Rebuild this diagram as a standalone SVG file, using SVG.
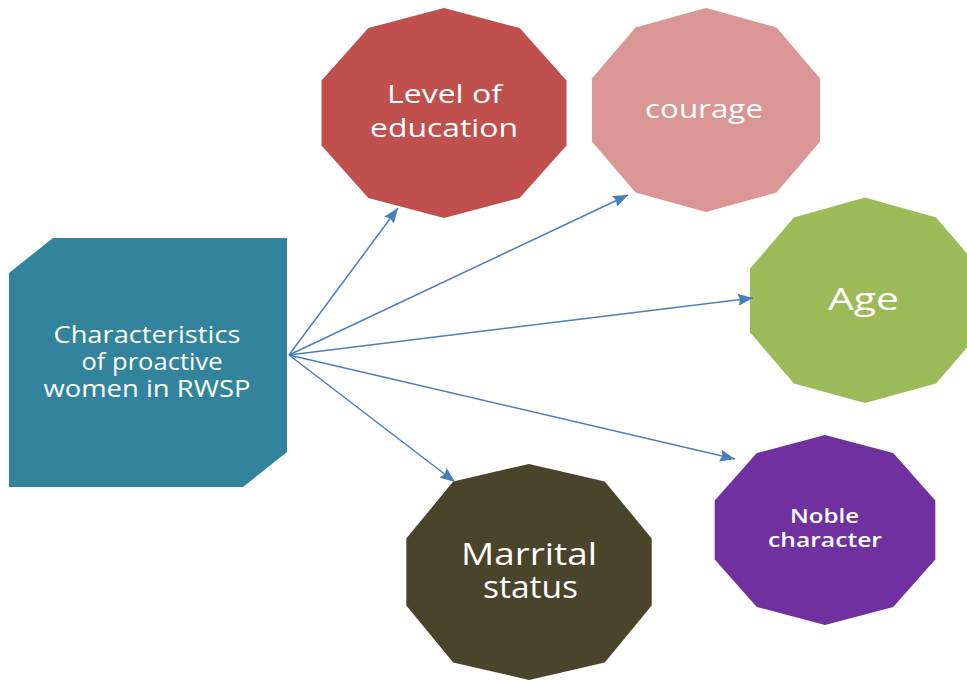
<svg xmlns="http://www.w3.org/2000/svg" width="967" height="681" viewBox="0 0 967 681">
  <defs>
    <style>
      .lbl { font-family: "Open Sans", "Noto Sans", "Liberation Sans", sans-serif; fill: #ffffff; text-anchor: middle; }
      .conn { stroke: #4a7ebb; stroke-width: 1.5; fill: none; marker-end: url(#arrow); }
    </style>
    <marker id="arrow" viewBox="0 0 15 12" refX="15" refY="6" markerWidth="15" markerHeight="12" markerUnits="userSpaceOnUse" orient="auto">
      <path d="M0,0 L15,6 L0,12 L2,6 Z" fill="#4a7ebb"/>
    </marker>
  </defs>
  <rect width="967" height="681" fill="#ffffff"/>

  <g id="node-main">
    <polygon points="9,273 53,238 287,238 287,452 243,487 9,487" fill="#31849b"/>
    <text class="lbl" font-size="23" x="147" y="343" textLength="187" lengthAdjust="spacingAndGlyphs">Characteristics</text>
    <text class="lbl" font-size="23" x="152" y="370" textLength="141" lengthAdjust="spacingAndGlyphs">of proactive</text>
    <text class="lbl" font-size="23" x="147" y="397" textLength="207" lengthAdjust="spacingAndGlyphs">women in RWSP</text>
  </g>

  <g id="node-education">
    <polygon points="444,8 519.7,28.1 566.5,80.6 566.5,145.4 519.7,197.9 444,218 368.3,197.9 321.5,145.4 321.5,80.6 368.3,28.1" fill="#c0504d"/>
    <text class="lbl" font-size="25" x="444.5" y="103" textLength="115" lengthAdjust="spacingAndGlyphs">Level of</text>
    <text class="lbl" font-size="25" x="444" y="137" textLength="148" lengthAdjust="spacingAndGlyphs">education</text>
  </g>

  <g id="node-courage">
    <polygon points="706,8 776.5,27.5 820.1,78.5 820.1,141.5 776.5,192.5 706,212 635.5,192.5 591.9,141.5 591.9,78.5 635.5,27.5" fill="#d99694"/>
    <text class="lbl" font-size="25" x="704" y="118" textLength="118" lengthAdjust="spacingAndGlyphs">courage</text>
  </g>

  <g id="node-age">
    <polygon points="865,197.6 936.1,217.6 980.1,268.8 980.1,332.2 936.1,383.4 865,403 793.9,383.4 749.9,332.2 749.9,268.8 793.9,217.6" fill="#9bbb59"/>
    <text class="lbl" font-size="31" x="863.5" y="310" textLength="71" lengthAdjust="spacingAndGlyphs">Age</text>
  </g>

  <g id="node-noble">
    <polygon points="825,435 893.2,453.1 935.3,500.6 935.3,559.4 893.2,606.9 825,625 756.8,606.9 714.7,559.4 714.7,500.6 756.8,453.1" fill="#7030a0"/>
    <text class="lbl" font-size="19" font-weight="600" x="824.5" y="523" textLength="69" lengthAdjust="spacingAndGlyphs">Noble</text>
    <text class="lbl" font-size="19" font-weight="600" x="825" y="547" textLength="114" lengthAdjust="spacingAndGlyphs">character</text>
  </g>

  <g id="node-marrital">
    <polygon points="529,464 604.8,481.4 651.7,538.6 651.7,605.4 604.8,662.4 529,680 453.2,662.4 406.3,605.4 406.3,538.6 453.2,481.4" fill="#4a442a"/>
    <text class="lbl" font-size="31" x="529" y="565" textLength="136" lengthAdjust="spacingAndGlyphs">Marrital</text>
    <text class="lbl" font-size="31" x="530.5" y="598" textLength="95" lengthAdjust="spacingAndGlyphs">status</text>
  </g>

  <g id="connectors">
    <line class="conn" x1="289" y1="355" x2="398" y2="208"/>
    <line class="conn" x1="289" y1="355" x2="628" y2="195"/>
    <line class="conn" x1="289" y1="355" x2="753" y2="298"/>
    <line class="conn" x1="289" y1="355" x2="735" y2="459"/>
    <line class="conn" x1="289" y1="355" x2="455" y2="482"/>
  </g>
</svg>
